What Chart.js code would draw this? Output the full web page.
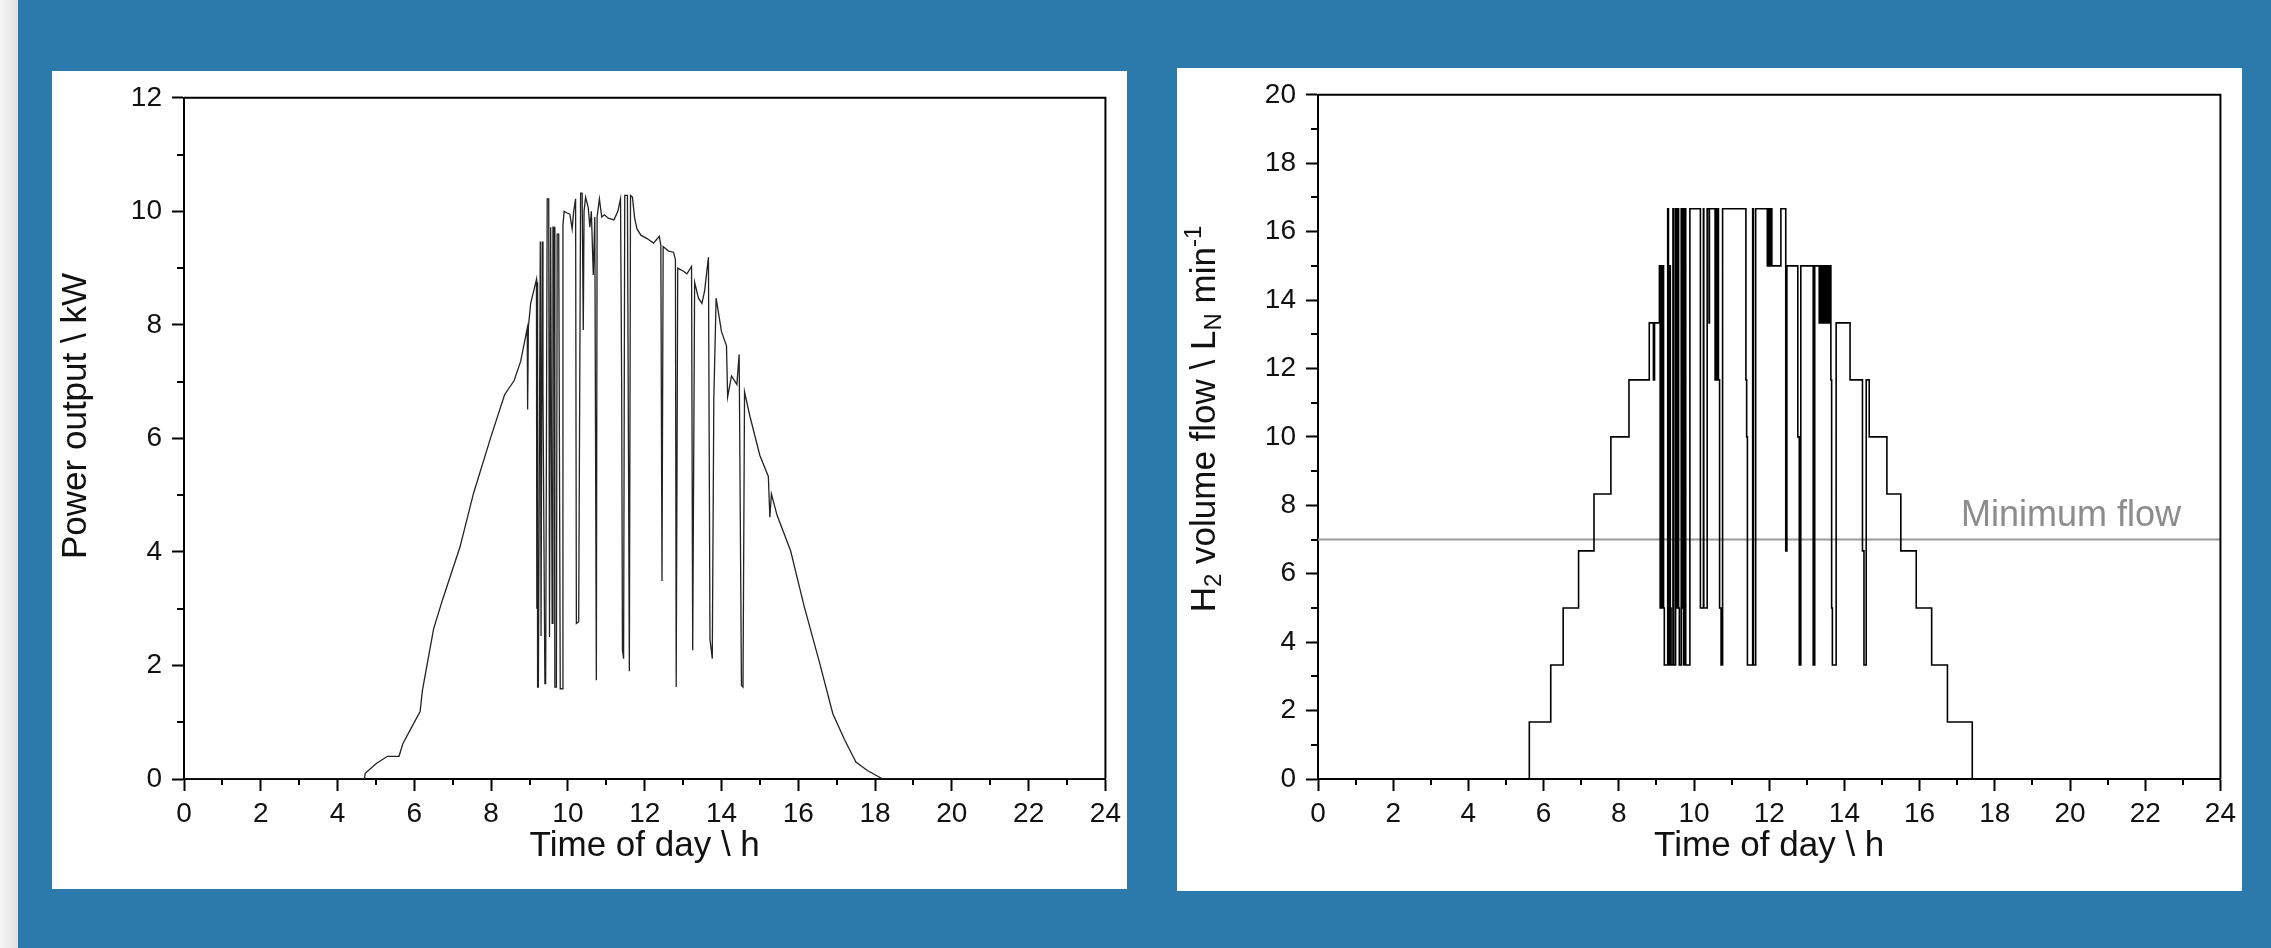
<!DOCTYPE html>
<html>
<head>
<meta charset="utf-8">
<script src="https://cdn.jsdelivr.net/npm/chart.js@4.4.0/dist/chart.umd.min.js"></script>
<style>
  html, body { margin: 0; padding: 0; }
  body { width: 2271px; height: 948px; position: relative; overflow: hidden; background: #2c79ab; }
  .strip { position: absolute; left: 0; top: 0; width: 18px; height: 948px; background: linear-gradient(to right, #f6f6f6, #e0e0e0); }
  .panel { position: absolute; background: #fff; }
  #p1 { left: 52px; top: 71px; width: 1075px; height: 818px; }
  #p2 { left: 1177px; top: 68px; width: 1065px; height: 823px; }
  canvas { display: block; }
</style>
</head>
<body>
<div class="strip"></div>
<div class="panel" id="p1"><canvas id="pvChart" width="1075" height="818"></canvas></div>
<div class="panel" id="p2"><canvas id="h2Chart" width="1065" height="823"></canvas></div>
<script>
// PV power output over the day (hours, kW)
const pvTime = [0, 4.70, 4.72, 5.00, 5.30, 5.60, 5.70, 5.92, 6.15, 6.21, 6.50, 6.73, 7.19, 7.54, 8.00, 8.35, 8.60, 8.77,
  8.94, 8.95, 8.97, 9.03, 9.12, 9.18, 9.19, 9.20, 9.21, 9.23, 9.28, 9.30, 9.33, 9.35, 9.40, 9.42, 9.46, 9.50, 9.52,
  9.55, 9.59, 9.61, 9.64, 9.66, 9.70, 9.72, 9.76, 9.80, 9.85, 9.87, 9.90, 9.98, 10.05, 10.11, 10.15, 10.20, 10.22,
  10.28, 10.33, 10.37, 10.40, 10.42, 10.46, 10.53, 10.57, 10.61, 10.66, 10.70, 10.74, 10.76, 10.82, 10.88, 10.95,
  11.05, 11.20, 11.30, 11.37, 11.40, 11.42, 11.45, 11.48, 11.55, 11.60, 11.63, 11.68, 11.74, 11.80, 11.90, 12.06,
  12.23, 12.38, 12.42, 12.45, 12.48, 12.62, 12.75, 12.80, 12.82, 12.86, 13.00, 13.10, 13.22, 13.25, 13.30, 13.40,
  13.49, 13.56, 13.66, 13.70, 13.76, 13.80, 13.86, 14.00, 14.13, 14.16, 14.26, 14.40, 14.46, 14.52, 14.56, 14.60,
  14.74, 15.00, 15.22, 15.26, 15.30, 15.45, 15.80, 16.15, 16.55, 16.90, 17.20, 17.50, 17.80, 18.20, 24];
const pvPower = [0, 0.00, 0.10, 0.27, 0.40, 0.40, 0.62, 0.90, 1.19, 1.56, 2.64, 3.15, 4.09, 5.03, 6.04, 6.77, 7.02, 7.36,
  7.94, 6.51, 7.96, 8.38, 8.63, 8.80, 3.00, 8.75, 1.62, 1.62, 9.47, 2.52, 9.47, 6.84, 1.68, 1.68, 10.22, 10.22, 2.50,
  9.72, 2.74, 9.72, 9.72, 1.62, 1.62, 9.60, 9.60, 1.59, 1.59, 9.75, 10.00, 9.97, 9.95, 9.69, 10.00, 10.22, 2.74,
  2.77, 10.32, 10.32, 7.91, 10.00, 10.25, 10.06, 9.72, 10.00, 8.88, 9.90, 1.74, 9.90, 10.22, 9.90, 9.94,
  9.88, 9.85, 10.00, 10.22, 6.88, 2.27, 2.12, 10.28, 10.28, 1.90, 10.28, 10.25, 9.87, 9.69, 9.58, 9.52,
  9.44, 9.56, 9.40, 3.49, 9.38, 9.30, 9.28, 9.15, 1.62, 9.00, 8.95, 8.90, 9.03, 2.27, 8.75, 8.47,
  8.38, 8.60, 9.19, 2.46, 2.12, 6.70, 8.47, 7.88, 7.63, 6.73, 7.10, 6.95, 7.48, 1.65, 1.62, 6.82,
  6.39, 5.70, 5.33, 4.61, 5.02, 4.64, 4.02, 3.05, 2.06, 1.15, 0.70, 0.30, 0.15, 0.00, 0];

// H2 volume flow: time of each change (h) and the new level (LN/min)
const h2Time = [0, 5.62, 6.19, 6.52, 6.93, 7.34, 7.79, 8.27, 8.81, 8.92, 8.95, 9.08, 9.10, 9.12, 9.14, 9.16, 9.19,
  9.21, 9.30, 9.32, 9.36, 9.37, 9.39, 9.44, 9.46, 9.51, 9.53, 9.55, 9.57, 9.59, 9.61, 9.66, 9.68, 9.70, 9.72, 9.76,
  9.78, 9.89, 10.17, 10.25, 10.26, 10.35, 10.40, 10.41, 10.56, 10.58, 10.60, 10.62, 10.65, 10.68, 10.72, 10.76,
  11.38, 11.40, 11.42, 11.56, 11.58, 11.64, 11.95, 11.97, 11.99, 12.01, 12.03, 12.05, 12.07, 12.31, 12.44, 12.47,
  12.76, 12.80, 12.84, 13.17, 13.21, 13.33, 13.36, 13.39, 13.42, 13.45, 13.48, 13.51, 13.54, 13.57, 13.60, 13.64,
  13.66, 13.68, 13.78, 14.15, 14.48, 14.52, 14.58, 14.66, 15.13, 15.50, 15.91, 16.32, 16.74, 17.40, 24];
const h2Flow = [0, 1.667, 3.333, 5, 6.667, 8.333, 10, 11.667, 13.333, 11.667, 13.333, 15, 5, 15, 5, 15, 5,
  3.333, 16.667, 3.333, 15, 5, 3.333, 16.667, 3.333, 16.667, 13.333, 5, 16.667, 5, 3.333, 16.667, 5, 16.667, 3.333, 16.667,
  3.333, 16.667, 5, 16.667, 5, 16.667, 13.333, 16.667, 11.667, 16.667, 11.667, 16.667, 11.667, 5, 3.333, 16.667,
  11.667, 10, 3.333, 16.667, 3.333, 16.667, 15, 16.667, 15, 16.667, 15, 16.667, 15, 16.667, 6.667, 15,
  10, 3.333, 15, 3.333, 15, 13.333, 15, 13.333, 15, 13.333, 15, 13.333, 15, 13.333, 15, 11.667,
  5, 3.333, 13.333, 11.667, 6.667, 3.333, 11.667, 10, 8.333, 6.667, 5, 3.333, 1.667, 0, 0];

const minFlow = 7;
const minFlowLabel = 'Minimum flow';

const FONT = "'Liberation Sans', Arial, sans-serif";

function toPoints(xs, ys) {
  return xs.map((x, i) => ({ x: x, y: ys[i] }));
}

// draws the top/right frame, the minor ticks and the axis titles
function makeFrame(cfg) {
  return {
    id: 'frame',
    afterDraw(chart) {
      const ctx = chart.ctx;
      const a = chart.chartArea;
      const sx = chart.scales.x, sy = chart.scales.y;
      ctx.save();
      ctx.strokeStyle = '#000';
      ctx.lineWidth = 2;
      ctx.beginPath();
      ctx.moveTo(a.left, a.top);
      ctx.lineTo(a.right, a.top);
      ctx.lineTo(a.right, a.bottom);
      ctx.stroke();

      ctx.beginPath();
      for (let h = 1; h < sx.max; h += 2) {
        const x = Math.round(sx.getPixelForValue(h));
        ctx.moveTo(x, a.bottom);
        ctx.lineTo(x, a.bottom + 6);
      }
      for (let v = 1; v < sy.max; v += 2) {
        const y = Math.round(sy.getPixelForValue(v));
        ctx.moveTo(a.left, y);
        ctx.lineTo(a.left - 7, y);
      }
      ctx.stroke();

      // x title
      ctx.fillStyle = '#111';
      ctx.font = '35px ' + FONT;
      ctx.textAlign = 'center';
      ctx.textBaseline = 'middle';
      ctx.fillText(cfg.xTitle, (a.left + a.right) / 2, cfg.xTitleY);

      // y title, rotated, with sub/superscripts
      ctx.translate(cfg.yTitleX, cfg.yTitleY);
      ctx.rotate(-Math.PI / 2);
      ctx.textAlign = 'left';
      ctx.textBaseline = 'middle';
      const big = 35, small = 24;
      let total = 0;
      cfg.yTitle.forEach(p => {
        ctx.font = (p.sub || p.sup ? small : big) + 'px ' + FONT;
        total += ctx.measureText(p.t).width;
      });
      let x = -total / 2;
      cfg.yTitle.forEach(p => {
        ctx.font = (p.sub || p.sup ? small : big) + 'px ' + FONT;
        const dy = p.sub ? 9 : (p.sup ? -11 : 0);
        ctx.fillText(p.t, x, dy);
        x += ctx.measureText(p.t).width;
      });
      ctx.restore();

      if (cfg.drawMinFlow) {
        ctx.save();
        ctx.fillStyle = '#8c8c8c';
        ctx.font = '36px ' + FONT;
        ctx.textAlign = 'left';
        ctx.textBaseline = 'alphabetic';
        ctx.fillText(minFlowLabel, sx.getPixelForValue(17.1), sy.getPixelForValue(minFlow) - 14);
        ctx.restore();
      }
    }
  };
}

function axes(yMax, yWidth, xHeight) {
  const tickFont = { family: FONT, size: 28 };
  const grid = { drawOnChartArea: false, drawTicks: true, tickLength: 12, tickWidth: 2, tickColor: '#000' };
  return {
    x: {
      type: 'linear', min: 0, max: 24,
      ticks: { stepSize: 2, color: '#111', font: tickFont, padding: 6, maxRotation: 0, autoSkip: false },
      grid: grid,
      border: { display: true, color: '#000', width: 2 },
      afterFit(s) { s.height = xHeight; }
    },
    y: {
      min: 0, max: yMax,
      ticks: { stepSize: 2, color: '#111', font: tickFont, padding: 10 },
      grid: grid,
      border: { display: true, color: '#000', width: 2 },
      afterFit(s) { s.width = yWidth; }
    }
  };
}

new Chart(document.getElementById('pvChart'), {
  type: 'line',
  data: {
    datasets: [{
      data: toPoints(pvTime, pvPower),
      borderColor: '#222',
      borderWidth: 1.3,
      pointRadius: 0,
      fill: false,
      tension: 0
    }]
  },
  options: {
    responsive: false,
    animation: false,
    layout: { padding: { top: 20, right: 19, left: 0, bottom: 0 } },
    plugins: { legend: { display: false }, tooltip: { enabled: false } },
    scales: axes(12, 132, 110)
  },
  plugins: [makeFrame({
    xTitle: 'Time of day \\ h', xTitleY: 775,
    yTitle: [{ t: 'Power output \\ kW' }], yTitleX: 24, yTitleY: 345
  })]
});

new Chart(document.getElementById('h2Chart'), {
  type: 'line',
  data: {
    datasets: [{
      data: toPoints(h2Time, h2Flow),
      borderColor: '#000',
      borderWidth: 1.6,
      pointRadius: 0,
      fill: false,
      stepped: true
    }, {
      data: toPoints([0, 24], [minFlow, minFlow]),
      borderColor: '#9a9a9a',
      borderWidth: 2,
      pointRadius: 0,
      fill: false
    }]
  },
  options: {
    responsive: false,
    animation: false,
    layout: { padding: { top: 22, right: 20, left: 0, bottom: 0 } },
    plugins: { legend: { display: false }, tooltip: { enabled: false } },
    scales: axes(20, 141, 112)
  },
  plugins: [makeFrame({
    xTitle: 'Time of day \\ h', xTitleY: 778,
    yTitle: [{ t: 'H' }, { t: '2', sub: true }, { t: ' volume flow \\ L' }, { t: 'N', sub: true }, { t: ' min' }, { t: '-1', sup: true }],
    yTitleX: 28, yTitleY: 351, drawMinFlow: true
  })]
});
</script>
</body>
</html>
